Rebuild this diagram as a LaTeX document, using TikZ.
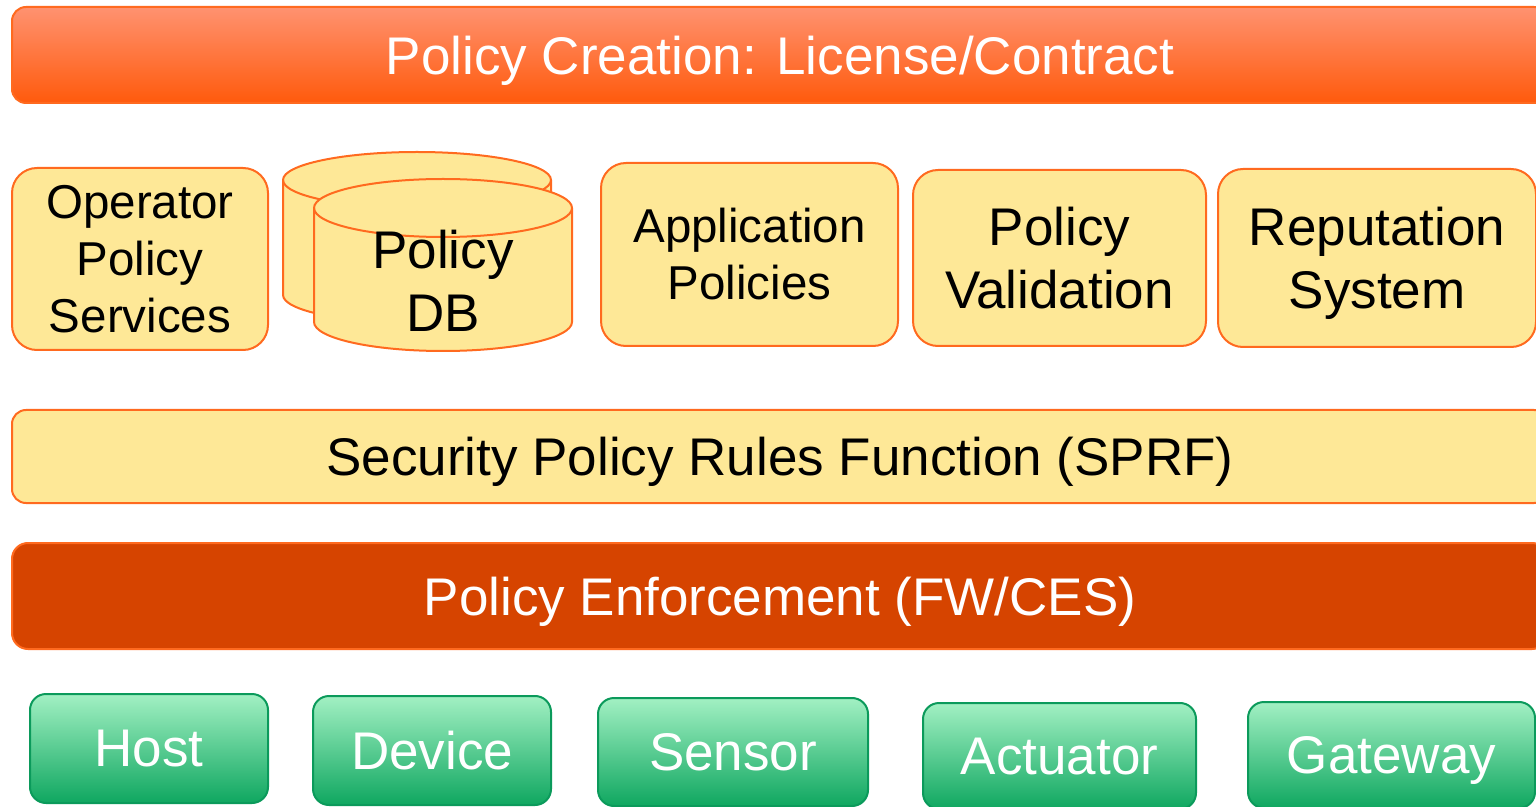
\documentclass[tikz,border=0pt]{standalone}
\usepackage{fontspec}
\setmainfont{Liberation Sans}
\definecolor{ostroke}{HTML}{FF6A1F}
\definecolor{yfill}{HTML}{FEE897}
\definecolor{enf}{HTML}{D64400}
\definecolor{toptop}{HTML}{FF9270}
\definecolor{topbot}{HTML}{FF5A0C}
\definecolor{gtop}{HTML}{A2F0C3}
\definecolor{gbot}{HTML}{0FA760}
\definecolor{gstroke}{HTML}{0B9A5B}
\tikzset{
  bigtxt/.style={font=\fontsize{26.5}{31.5}\selectfont},
  smalltxt/.style={font=\fontsize{23.75}{28.5}\selectfont},
  ybox/.style={draw=ostroke, line width=1pt, fill=yfill, rounded corners=12.5pt,
    align=center, inner sep=0pt, text=black},
  bar/.style={line width=1pt, rounded corners=7pt, inner sep=0pt, align=center,
    minimum width=768pt, text depth=0pt},
  gbox/.style={draw=gstroke, line width=1pt, top color=gtop, bottom color=gbot,
    rounded corners=8pt, inner sep=0pt, text=white, bigtxt, text depth=0pt},
  cyl/.style={draw=ostroke, line width=1pt, fill=yfill}
}
\begin{document}
\begin{tikzpicture}[x=0.5pt,y=0.5pt]
\useasboundingbox (0,0) rectangle (1536,-807);
\clip (0,0) rectangle (1536,-807);
% top bar
\node[bar, draw=ostroke, top color=toptop, bottom color=topbot, text=white, bigtxt,
  minimum height=48pt] (create) at (780,-55) {Policy Creation: License/Contract};
% middle boxes
\node[ybox, smalltxt, minimum width=128pt, minimum height=91pt] (oper) at (140,-259)
  {Operator\\Policy\\Services};
% Policy DB cylinders
\path[cyl] (283,-180) -- (283,-295)
  arc[start angle=180, end angle=360, x radius=67pt, y radius=14pt]
  -- (551,-180)
  arc[start angle=0, end angle=180, x radius=67pt, y radius=14pt] -- cycle;
\draw[draw=ostroke, line width=1pt] (283,-180)
  arc[start angle=180, end angle=360, x radius=67pt, y radius=14pt];
\path[cyl] (314,-208) -- (314,-322)
  arc[start angle=180, end angle=360, x radius=64.5pt, y radius=14.5pt]
  -- (572,-208)
  arc[start angle=0, end angle=180, x radius=64.5pt, y radius=14.5pt] -- cycle;
\draw[draw=ostroke, line width=1pt] (314,-208)
  arc[start angle=180, end angle=360, x radius=64.5pt, y radius=14.5pt];
\node[bigtxt, align=center, inner sep=0pt] (db) at (443,-281) {Policy\\DB};
\node[ybox, smalltxt, minimum width=148.5pt, minimum height=91.5pt] (app) at (749.5,-254.5)
  {Application\\Policies};
\node[ybox, bigtxt, minimum width=146.5pt, minimum height=88pt] (valid) at (1059.5,-258)
  {Policy\\Validation};
\node[ybox, bigtxt, minimum width=159pt, minimum height=89pt, text depth=0pt] (rep) at (1377,-258)
  {Reputation\\System};
% SPRF
\node[bar, draw=ostroke, fill=yfill, text=black, bigtxt, minimum height=46.5pt]
  (sprf) at (780,-456.5) {Security Policy Rules Function (SPRF)};
% enforcement
\node[bar, draw=ostroke, fill=enf, text=white, bigtxt, rounded corners=8pt,
  minimum height=53pt] (enforce) at (780,-596) {Policy Enforcement (FW/CES)};
% green boxes
\node[gbox, minimum width=119pt, minimum height=54.5pt] (host) at (149,-748.5) {Host};
\node[gbox, minimum width=119pt, minimum height=54.5pt] (device) at (432,-750.5) {Device};
\node[gbox, minimum width=135pt, minimum height=54pt] (sensor) at (733,-752) {Sensor};
\node[gbox, minimum width=136.5pt, minimum height=53pt] (act) at (1059.5,-756) {Actuator};
\node[gbox, minimum width=143.5pt, minimum height=53pt] (gate) at (1391.5,-755) {Gateway};
\end{tikzpicture}
\end{document}
